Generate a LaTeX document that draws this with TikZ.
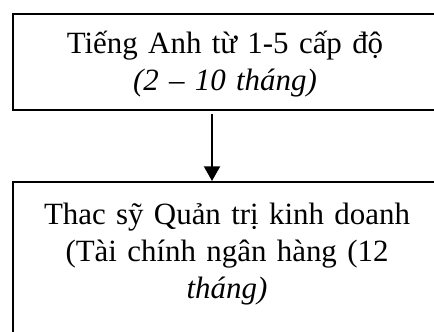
\documentclass[tikz,border=0pt]{standalone}
\usepackage{fontspec}
\setmainfont{Liberation Serif}
\usetikzlibrary{arrows.meta}
\tikzset{every picture/.style={line width=0.75pt}}

\begin{document}
\begin{tikzpicture}[x=0.75pt,y=0.75pt,yscale=-1,xscale=1,
  stage/.style={draw, line width=1.5pt, anchor=north west, inner sep=0pt, minimum width=318pt, text width=318pt, align=center, font=\fontsize{23.2}{27.75}\selectfont},
  flow/.style={line width=1.5pt, -{Triangle[width=12pt,length=11pt]}}]
%set diagram size to 434 x 331, boxes run past the right and bottom edge
\useasboundingbox (0,0) rectangle (434,331);
\clip (0,0) rectangle (434,331);

%Shape: Rectangle [english]
\node [stage, text height=30pt, text depth=42pt] (english) at (12,13) {Tiếng Anh từ 1-5 cấp độ\\ \textit{(2 – 10 tháng)}};
%Shape: Rectangle [mba]
\node [stage, minimum width=321pt, text width=321pt, text height=31.5pt, text depth=150pt] (mba) at (12,181) {Thac sỹ Quản trị kinh doanh\\ (Tài chính ngân hàng (12\\ \textit{tháng)}};

%Straight Lines [arrow]
\coordinate (arrowx) at (212,0);
\draw [flow, shorten <=2pt] (english.south -| arrowx) -- (mba.north -| arrowx);

\end{tikzpicture}
\end{document}
